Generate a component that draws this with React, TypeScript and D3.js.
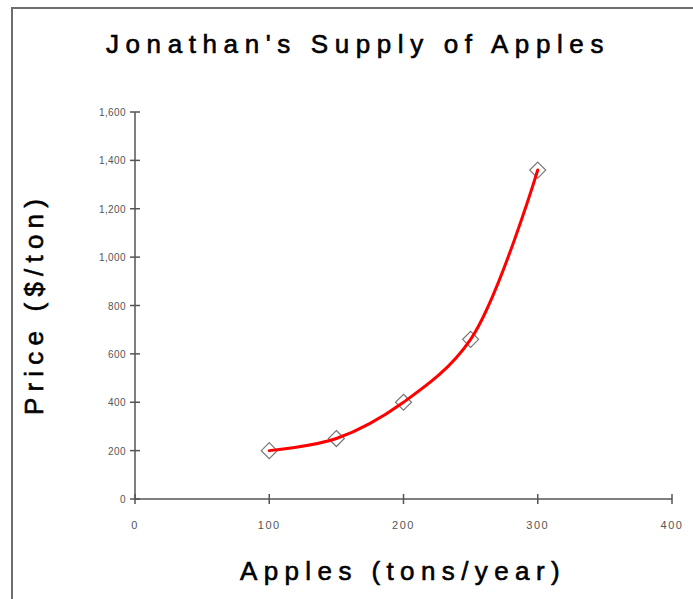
import * as d3 from 'd3'
import React, { useRef, useEffect } from 'react'

const apples = [100, 150, 200, 250, 300]
const prices = [200, 250, 400, 660, 1360]
const xTicks = [0, 100, 200, 300, 400]
const yTicks = [0, 200, 400, 600, 800, 1000, 1200, 1400, 1600]

const App = () => {
  const ref = useRef(null)

  useEffect(() => {
    draw()
  }, [])

  const draw = () => {
    const svg = d3.select(ref.current)
    svg.selectAll('*').remove()

    const xScale = d3.scaleLinear().domain([0, 400]).range([135, 672])
    const yScale = d3.scaleLinear().domain([0, 1600]).range([499, 112])
    const font = '"Liberation Sans", Arial, sans-serif'

    // frame around the chart area (runs off the right and bottom)
    svg
      .append('rect')
      .attr('x', 12)
      .attr('y', 8)
      .attr('width', 700)
      .attr('height', 620)
      .attr('fill', 'none')
      .attr('stroke', '#6e6e6e')
      .attr('stroke-width', 2)

    const bigText = (sel: any) =>
      sel
        .style('font-family', font)
        .style('font-size', '26px')
        .attr('fill', '#000')
        .attr('stroke', '#000')
        .attr('stroke-width', 0.6)
        .attr('text-anchor', 'middle')

    svg
      .append('text')
      .attr('x', 358)
      .attr('y', 53)
      .call(bigText)
      .style('letter-spacing', '6.6px')
      .text("Jonathan's Supply of Apples")

    const axisColor = '#555'

    // y axis
    svg
      .append('line')
      .attr('x1', xScale(0))
      .attr('x2', xScale(0))
      .attr('y1', yScale(1600))
      .attr('y2', yScale(0))
      .attr('stroke', axisColor)
      .attr('stroke-width', 1.5)

    svg
      .selectAll('.ytick')
      .data(yTicks)
      .enter()
      .append('line')
      .attr('x1', xScale(0) - 5)
      .attr('x2', xScale(0) + 5)
      .attr('y1', (d) => yScale(d))
      .attr('y2', (d) => yScale(d))
      .attr('stroke', axisColor)
      .attr('stroke-width', 1.5)

    svg
      .selectAll('.ylab')
      .data(yTicks)
      .enter()
      .append('text')
      .attr('x', 126)
      .attr('y', (d) => yScale(d) + 4)
      .attr('text-anchor', 'end')
      .style('font-family', font)
      .style('font-size', '10px')
      .style('letter-spacing', '0.4px')
      .attr('fill', '#555')
      .text((d) => d3.format(',')(d))

    // x axis
    svg
      .append('line')
      .attr('x1', xScale(0))
      .attr('x2', xScale(400))
      .attr('y1', yScale(0))
      .attr('y2', yScale(0))
      .attr('stroke', axisColor)
      .attr('stroke-width', 1.5)

    svg
      .selectAll('.xtick')
      .data(xTicks)
      .enter()
      .append('line')
      .attr('x1', (d) => xScale(d))
      .attr('x2', (d) => xScale(d))
      .attr('y1', yScale(0) - 5)
      .attr('y2', yScale(0) + 5)
      .attr('stroke', axisColor)
      .attr('stroke-width', 1.5)

    svg
      .selectAll('.xlab')
      .data(xTicks)
      .enter()
      .append('text')
      .attr('x', (d) => xScale(d))
      .attr('y', 529)
      .attr('text-anchor', 'middle')
      .style('font-family', font)
      .style('font-size', '11px')
      .style('letter-spacing', '1.6px')
      .attr('fill', '#555')
      .text((d) => d)

    svg
      .append('text')
      .attr('x', 403)
      .attr('y', 580)
      .call(bigText)
      .style('letter-spacing', '6.4px')
      .text('Apples (tons/year)')

    svg
      .append('text')
      .attr('transform', 'translate(43,304) rotate(-90)')
      .call(bigText)
      .style('letter-spacing', '6.2px')
      .text('Price ($/ton)')

    const data = apples.map((a, i) => [a, prices[i]])

    const line = d3
      .line()
      .x((d: any) => xScale(d[0]))
      .y((d: any) => yScale(d[1]))
      .curve(d3.curveCatmullRom.alpha(0.5))

    svg
      .append('g')
      .selectAll('path')
      .data(data)
      .enter()
      .append('path')
      .attr('d', (d: any) => {
        const cx = xScale(d[0])
        const cy = yScale(d[1])
        const r = 8
        return `M${cx},${cy - r}L${cx + r},${cy}L${cx},${cy + r}L${cx - r},${cy}Z`
      })
      .attr('fill', '#fff')
      .attr('stroke', '#777')
      .attr('stroke-width', 1.2)

    svg
      .append('path')
      .datum(data)
      .attr('fill', 'none')
      .attr('stroke', '#ff0000')
      .attr('stroke-width', 3)
      .attr('stroke-linecap', 'round')
      // @ts-ignore
      .attr('d', line)
  }

  return (
    <svg
      ref={ref}
      width={693}
      height={599}
      style={{ position: 'absolute', left: 0, top: 0, background: '#fff' }}
    />
  )
}

export default App
